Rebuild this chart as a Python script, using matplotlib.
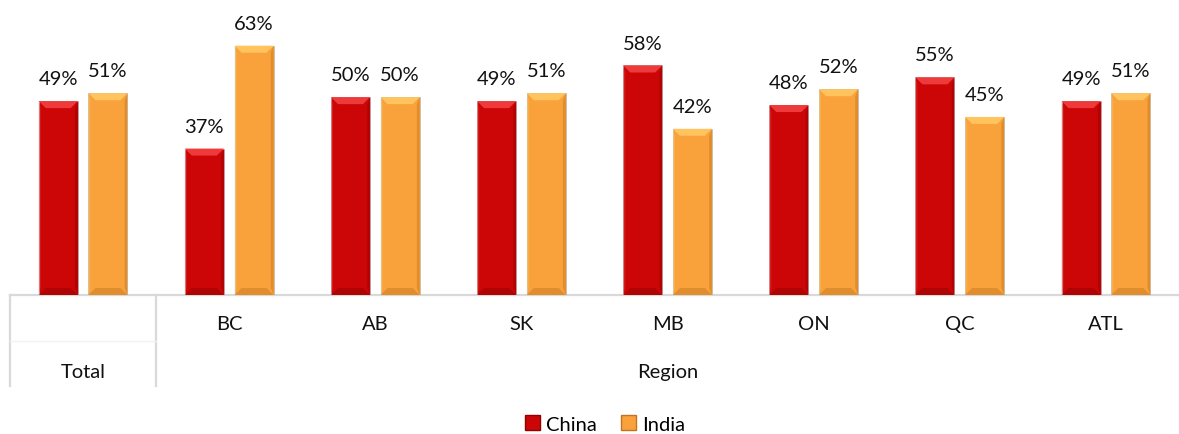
import matplotlib
matplotlib.use("Agg")
import matplotlib.pyplot as plt
from matplotlib.patches import Polygon, Rectangle
from matplotlib.transforms import blended_transform_factory

plt.rcParams["font.family"] = ["Lato", "DejaVu Sans"]

categories = ["Total", "BC", "AB", "SK", "MB", "ON", "QC", "ATL"]
china = [49, 37, 50, 49, 58, 48, 55, 49]
india = [51, 63, 50, 51, 42, 52, 45, 51]
series_names = ["China", "India"]

# face, light top bevel, dark bottom/side bevel
palette = {
    "China": ("#CC0606", "#EE3A3A", "#8E0202"),
    "India": ("#F9A23B", "#FFC45E", "#C27420"),
}

W, H = 1179, 435
fig = plt.figure(figsize=(W / 100, H / 100), dpi=100)
ax = fig.add_axes([10 / W, (H - 296) / H, 1169 / W, 296 / H])

n = len(categories)
ax.set_xlim(-0.5, n - 0.5)
ax.set_ylim(0, 74.8)
ax.axis("off")

width = 0.267
offset = 0.17
px_x = 1.0 / 146          # data units per pixel, x
px_y = 74.8 / 296         # data units per pixel, y
FS = 14.5


def bevel_bars(xs, vals, name):
    face, light, dark = palette[name]
    bars = ax.bar(xs, vals, width=width, color=face, edgecolor="#B0B0B0",
                  linewidth=0.4, zorder=2)
    dx, dy = 7 * px_x, 7 * px_y
    for b in bars:
        x0, x1 = b.get_x(), b.get_x() + b.get_width()
        h = b.get_height()
        # top bevel
        ax.add_patch(Polygon([(x0, h), (x1, h), (x1 - dx, h - dy), (x0 + dx, h - dy)],
                             closed=True, color=light, lw=0, zorder=3))
        # bottom bevel
        ax.add_patch(Polygon([(x0, 0), (x1, 0), (x1 - dx, dy), (x0 + dx, dy)],
                             closed=True, color=dark, lw=0, alpha=0.45, zorder=3))
        # right side shade
        ax.add_patch(Polygon([(x1, 0), (x1, h), (x1 - dx * 0.4, h - dy), (x1 - dx * 0.4, dy)],
                             closed=True, color=dark, lw=0, alpha=0.45, zorder=3))
        # left side highlight
        ax.add_patch(Polygon([(x0, 0), (x0, h), (x0 + dx * 0.3, h - dy), (x0 + dx * 0.3, dy)],
                             closed=True, color=light, lw=0, alpha=0.35, zorder=3))
        ax.annotate(f"{h:.0f}%", (b.get_x() + b.get_width() / 2, h),
                    xytext=(0, 10), textcoords="offset points",
                    ha="center", va="bottom", fontsize=FS, color="#111111")
    return bars


xs = list(range(n))
bevel_bars([x - offset for x in xs], china, "China")
bevel_bars([x + offset for x in xs], india, "India")

# category table below the axis
trans = blended_transform_factory(ax.transData, ax.transAxes)
line_kw = dict(color="#D9D9D9", lw=1.6, clip_on=False, zorder=1)
ax.plot([-0.5, n - 0.5], [0, 0], transform=trans, **line_kw)
for xv in (-0.5, 0.5):
    ax.plot([xv, xv], [0, -0.307], transform=trans, **line_kw)
ax.plot([-0.5, 0.5], [-0.155, -0.155], transform=trans, color="#F2F2F2", lw=1,
        clip_on=False)

for i, c in enumerate(categories[1:], start=1):
    ax.text(i, -0.095, c, transform=trans, ha="center", va="center",
            fontsize=FS, color="#111111")
ax.text(0, -0.26, "Total", transform=trans, ha="center", va="center",
        fontsize=FS, color="#111111")
ax.text((1 + n - 1) / 2, -0.26, "Region", transform=trans, ha="center",
        va="center", fontsize=FS, color="#111111")

handles = [Rectangle((0, 0), 1, 1, facecolor=palette[s][0], edgecolor=palette[s][2], lw=1)
           for s in series_names]
fig.legend(handles, series_names, loc="center", bbox_to_anchor=(605 / W, 1 - 425 / H),
           ncol=2, frameon=False, fontsize=FS, handlelength=0.75, handleheight=0.75,
           handletextpad=0.3, columnspacing=1.2)

fig.savefig("out.png", dpi=100)
